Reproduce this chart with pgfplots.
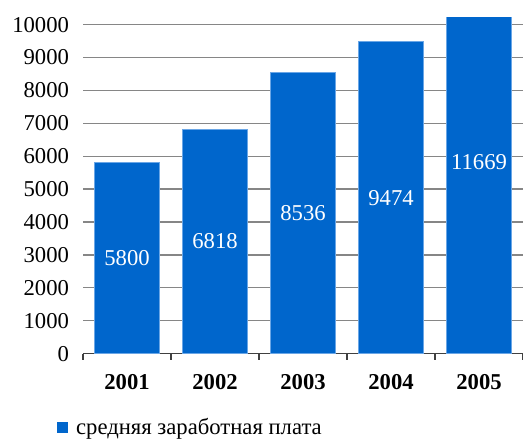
\documentclass[border=0pt]{standalone}
\usepackage{fontspec}
\setmainfont{Liberation Serif}
\usepackage{pgfplots}
\usepackage{pgfplotstable}
\pgfplotsset{compat=1.18}

\definecolor{barblue}{HTML}{0066CC}
\definecolor{baredge}{HTML}{6AA6E6}
\definecolor{gridgray}{HTML}{868686}
\definecolor{axisgray}{HTML}{404040}

\pgfplotstableread{
x y
0 5800
1 6818
2 8536
3 9474
4 11669
}\wages

\begin{document}
\begin{tikzpicture}
\useasboundingbox (-62.25pt,-66pt) rectangle (330pt,265.2pt);
\begin{axis}[
  scale only axis, width=330pt, height=251.7pt,
  at={(0,0)}, anchor=south west,
  xmin=-0.5, xmax=4.5, ymin=0, ymax=10200,
  ytick={0,1000,...,10000},
  scaled y ticks=false,
  xtick={0,1,2,3,4},
  xticklabels={2001,2002,2003,2004,2005},
  minor xtick={-0.5,0.5,1.5,2.5,3.5,4.5},
  major tick length=0pt, minor tick length=4.5pt,
  tick align=outside,
  axis x line*=bottom, axis y line*=left,
  y axis line style={draw=none},
  x axis line style={axisgray, line width=1pt},
  minor tick style={axisgray, line width=1pt},
  ytick style={draw=none},
  ymajorgrids, grid style={gridgray, line width=1pt},
  /pgf/number format/assume math mode=true,
  /pgf/number format/1000 sep={},
  yticklabel style={font=\fontsize{17}{20}\selectfont, xshift=-7pt},
  xticklabel style={font=\fontsize{17}{20}\selectfont\bfseries, yshift=-12pt},
  legend style={at={(-0.059,-0.2205)}, anchor=west, draw=none, fill=none,
    font=\fontsize{17}{20}\selectfont, inner sep=0pt,
    nodes={inner xsep=6pt}},
  legend cell align=left,
  legend image code/.code={\fill[barblue] (0pt,-3.75pt) rectangle (7.5pt,3.75pt);},
]
\addplot[ybar, bar width=0.74, fill=barblue, draw=baredge, line width=0.6pt]
  table[x=x, y=y]{\wages};
\addlegendentry{средняя заработная плата}
\addplot[draw=none, mark=none, forget plot,
  nodes near coords, point meta=explicit symbolic,
  every node near coord/.append style={anchor=center, text=white,
    font=\fontsize{17}{20}\selectfont}]
  table[x=x, y expr=\thisrow{y}/2, meta=y]{\wages};
\end{axis}
\end{tikzpicture}
\end{document}
